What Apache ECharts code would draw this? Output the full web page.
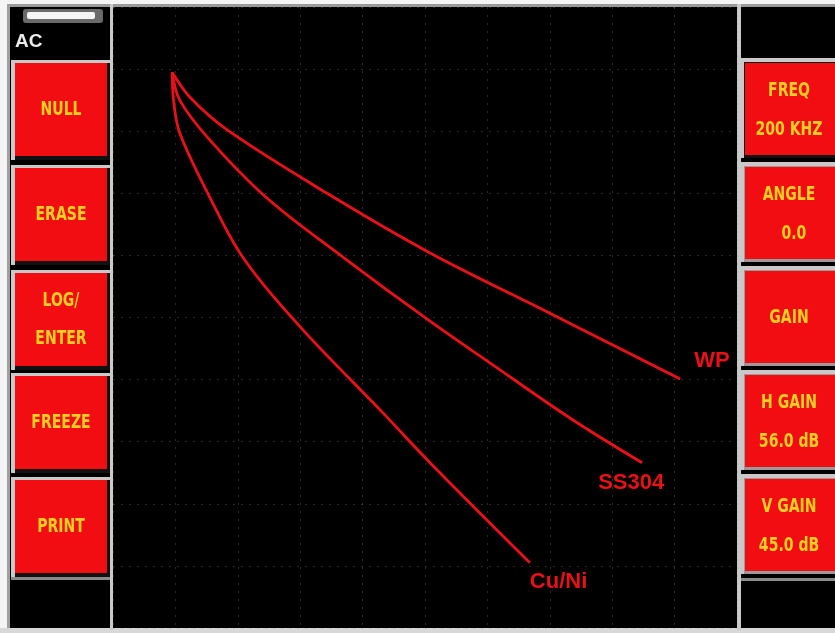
<!DOCTYPE html>
<html>
<head>
<meta charset="utf-8">
<script src="https://cdn.jsdelivr.net/npm/echarts@6/dist/echarts.min.js"></script>
<style>html,body{margin:0;padding:0;background:#000;}#c{width:835px;height:633px;}</style>
</head>
<body>
<div id="c"></div>
<script>
// Data (screen divisions, 0-10 each axis)
const wpX = [0.95, 1.23, 1.83, 3.43, 5.08, 7.00, 9.09];
const wpY = [8.95, 8.55, 8.02, 7.00, 6.04, 5.07, 4.01];
const ssX = [0.95, 1.07, 1.55, 2.47, 3.69, 5.08, 6.04, 7.34, 8.48];
const ssY = [8.95, 8.50, 7.86, 6.92, 5.97, 4.94, 4.27, 3.37, 2.66];
const cuX = [0.95, 0.97, 1.07, 1.55, 2.08, 3.00, 4.33, 5.08, 6.68];
const cuY = [8.95, 8.50, 7.97, 6.94, 5.97, 4.85, 3.46, 2.66, 1.05];
const seriesNames = ['WP', 'SS304', 'Cu/Ni'];
const leftButtons = [['NULL'], ['ERASE'], ['LOG/', 'ENTER'], ['FREEZE'], ['PRINT']];
const rightButtons = [['FREQ', '200 KHZ'], ['ANGLE', '  0.0'], ['GAIN'], ['H GAIN', '56.0 dB'], ['V GAIN', '45.0 dB']];
const statusText = 'AC';

const chart = echarts.init(document.getElementById('c'));
const RED = '#f20d12';
const YEL = '#f5d020';
const LG = '#c9c9c9';
const font = 'bold 20px "Liberation Sans Narrow", "DejaVu Sans Condensed", sans-serif';

const g = [];
// outer frame
g.push({type:'rect', shape:{x:0,y:0,width:835,height:4}, style:{fill:'#f4f4f4'}});
g.push({type:'rect', shape:{x:0,y:4,width:835,height:3}, style:{fill:'#9a9a9a'}});
g.push({type:'rect', shape:{x:0,y:0,width:7,height:633}, style:{fill:'#f4f4f4'}});
g.push({type:'rect', shape:{x:7,y:4,width:3,height:629}, style:{fill:'#a0a0a0'}});
g.push({type:'rect', shape:{x:0,y:628,width:835,height:5}, style:{fill:'#d8d8d8'}});
g.push({type:'rect', shape:{x:110,y:4,width:3,height:626}, style:{fill:LG}});
g.push({type:'rect', shape:{x:737,y:4,width:4,height:626}, style:{fill:LG}});
// status bar
g.push({type:'rect', shape:{x:23,y:9,width:80,height:14,r:3}, style:{fill:'#6a6a6a'}});
g.push({type:'rect', shape:{x:27,y:12,width:68,height:7,r:2}, style:{fill:'#f4f4f4'}});
g.push({type:'text', x:15, y:42, style:{text:statusText, fill:'#ececec', font:'bold 19px "Liberation Sans Narrow", sans-serif', textVerticalAlign:'middle'}});

function addLines(lines, cx, cy, spacing) {
  const n = lines.length;
  lines.forEach((t, i) => {
    g.push({type:'text', x:cx, y:cy + (i - (n-1)/2) * spacing, scaleX:0.78,
      style:{text:t, fill:YEL, font:font, textAlign:'center', textVerticalAlign:'middle'}});
  });
}
const leftTops = [60, 165, 270, 373, 477];
leftButtons.forEach((lines, i) => {
  const t = leftTops[i];
  g.push({type:'rect', shape:{x:11,y:t,width:99,height:100}, style:{fill:LG}});
  g.push({type:'rect', shape:{x:15,y:t+3,width:95,height:97}, style:{fill:'#111'}});
  g.push({type:'rect', shape:{x:15,y:t+3,width:92,height:93}, style:{fill:RED}});
  addLines(lines, 61, t + 50, 38);
});
g.push({type:'rect', shape:{x:11,y:577,width:99,height:3}, style:{fill:'#8a8a8a'}});
const rightTops = [58, 162, 266, 370, 474];
rightButtons.forEach((lines, i) => {
  const t = rightTops[i];
  g.push({type:'rect', shape:{x:741,y:t,width:94,height:100}, style:{fill:LG}});
  g.push({type:'rect', shape:{x:744,y:t+4,width:91,height:96}, style:{fill:i===0?'#111':'#9a9a9a'}});
  g.push({type:'rect', shape:{x:745,y:t+5,width:90,height:92}, style:{fill:RED}});
  addLines(lines, 789, t + 52, 39);
});
g.push({type:'rect', shape:{x:741,y:578,width:94,height:3}, style:{fill:'#8a8a8a'}});

function toData(xs, ys) { return xs.map((x, i) => [x, ys[i]]); }
const labelOffsets = [[6, -18], [-52, 20], [-8, 19]];
const dataSets = [toData(wpX, wpY), toData(ssX, ssY), toData(cuX, cuY)];

chart.setOption({
  backgroundColor: '#000',
  animation: false,
  grid: {left:113, right:98, top:7, bottom:5, show:false},
  xAxis: {type:'value', min:0, max:10, interval:1, axisLine:{show:false}, axisTick:{show:false}, axisLabel:{show:false},
    splitLine:{show:true, lineStyle:{color:'rgba(140,140,140,0.3)', type:[2,6], width:1}}},
  yAxis: {type:'value', min:0, max:10, interval:1, axisLine:{show:false}, axisTick:{show:false}, axisLabel:{show:false},
    splitLine:{show:true, lineStyle:{color:'rgba(140,140,140,0.3)', type:[2,6], width:1}}},
  graphic: {elements: g},
  series: dataSets.map((d, i) => ({
    type:'line', name: seriesNames[i], data: d, smooth: 0.35, showSymbol:false, z:5,
    lineStyle:{color:'#ea1018', width:2.8},
    endLabel:{show:true, formatter: seriesNames[i], color:'#ea1018', offset: labelOffsets[i],
      fontFamily:'"Liberation Sans", Arial, sans-serif', fontWeight:'bold', fontSize:22}
  }))
});
</script>
</body>
</html>
